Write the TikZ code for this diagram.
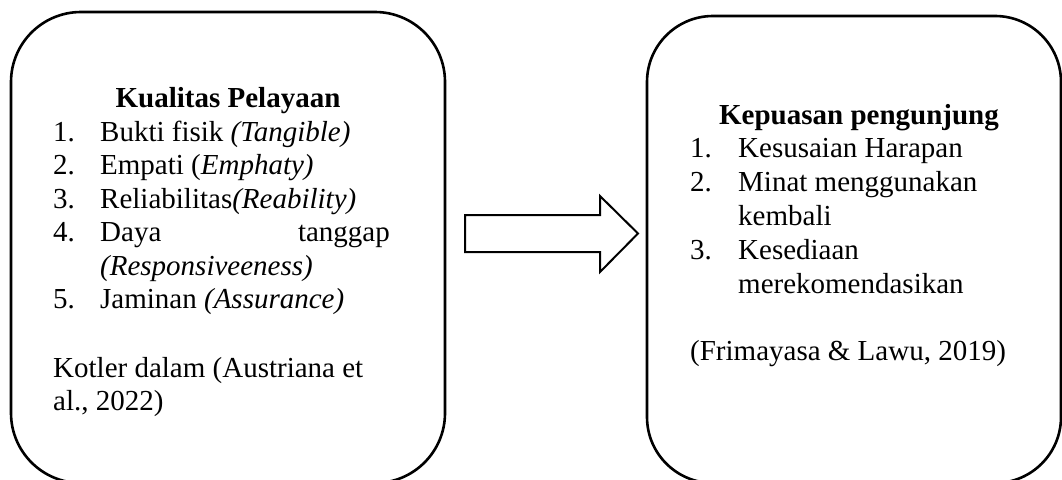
\documentclass[tikz,border=0pt]{standalone}
\usepackage{fontspec}
\setmainfont{Liberation Serif}
\begin{document}
\begin{tikzpicture}[x=1pt,y=-1pt,
  boxframe/.style={draw=black, line width=2.6pt, inner sep=0pt},
  txt/.style={anchor=base west, inner sep=0pt, font=\fontsize{29}{33.5}\selectfont},
  txtr/.style={anchor=base east, inner sep=0pt, font=\fontsize{29}{33.5}\selectfont},
  ttl/.style={anchor=base, inner sep=0pt, font=\fontsize{29}{33.5}\selectfont\bfseries}]
\useasboundingbox (0,0) rectangle (1062,479);
% boxes
\node[boxframe, rounded corners=70pt, minimum width=434pt, minimum height=471pt] (lbox) at (228,247.5) {};
\node[boxframe, rounded corners=66pt, minimum width=414pt, minimum height=467pt] (rbox) at (854,249.5) {};
% block arrow
\draw[line width=2pt, line join=miter] (465,215) -- (600,215) -- (600,196) -- (638,233.5) -- (600,272) -- (600,252) -- (465,252) -- cycle;
% left texts
\node[ttl] (lt) at (228,107) {Kualitas Pelayaan};
\node[txt] (l1n) at (53,141) {1.};
\node[txt] (l1) at (100,141) {Bukti fisik \textit{(Tangible)}};
\node[txt] (l2n) at (53,174.5) {2.};
\node[txt] (l2) at (100,174.5) {Empati (\textit{Emphaty)}};
\node[txt] (l3n) at (53,208) {3.};
\node[txt] (l3) at (100,208) {Reliabilitas\textit{(Reability)}};
\node[txt] (l4n) at (53,241.5) {4.};
\node[txt] (l4a) at (100,241.5) {Daya};
\node[txtr] (l4b) at (390,241.5) {tanggap};
\node[txt] (l4c) at (100,275) {\textit{(Responsiveeness)}};
\node[txt] (l5n) at (53,308.5) {5.};
\node[txt] (l5) at (100,308.5) {Jaminan \textit{(Assurance)}};
\node[txt] (lsrc1) at (53,377) {Kotler dalam (Austriana et};
\node[txt] (lsrc2) at (53,410.5) {al., 2022)};
% right texts
\node[ttl] (rt) at (859,124) {Kepuasan pengunjung};
\node[txt] (r1n) at (690,157.5) {1.};
\node[txt] (r1) at (738,157.5) {Kesusaian Harapan};
\node[txt] (r2n) at (690,191.5) {2.};
\node[txt] (r2) at (738,191.5) {Minat menggunakan};
\node[txt] (r2b) at (738,225.5) {kembali};
\node[txt] (r3n) at (690,259.5) {3.};
\node[txt] (r3) at (738,259.5) {Kesediaan};
\node[txt] (r3b) at (738,293) {merekomendasikan};
\node[txt] (rsrc) at (690,360) {(Frimayasa \& Lawu, 2019)};
\end{tikzpicture}
\end{document}
